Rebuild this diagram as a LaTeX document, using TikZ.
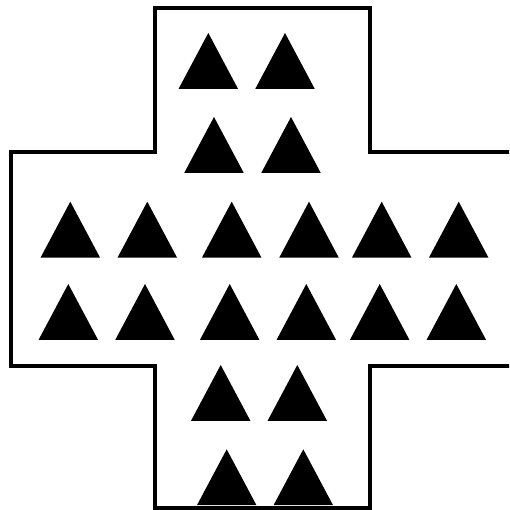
\documentclass[tikz,border=0pt]{standalone}
\usepackage{tikz}

\tikzset{
  board/.style={line width=4pt, line join=miter},
  peg/.style={fill=black},
}

\begin{document}
\begin{tikzpicture}[x=1pt, y=-1pt]
\useasboundingbox (0,0) rectangle (509,510);
\clip (0,0) rectangle (509,510);

% cross shaped board (right end runs off the page)
\draw[board] (516,152.5) -- (370,152.5) -- (370,8) -- (155,8) -- (155,152.5)
  -- (10.5,152.5) -- (10.5,365.5) -- (155,365.5) -- (155,507.5)
  -- (370,507.5) -- (370,365.5) -- (516,365.5);

% pegs, given by their apex
\foreach \ax/\ay in {208.3/33, 285/33,
                     214/117, 291/117,
                     70.3/201.7, 147.3/201.7, 231.7/201.7, 309/201.7, 381.7/201.7, 458.7/201.7,
                     68.3/284, 145/284, 229.7/284, 306.3/284, 379.7/284, 456.3/284,
                     220.7/365, 297.3/365,
                     226.7/449.3, 303.3/449.3}
  \fill[peg] (\ax,\ay) -- ++(29.7,55.8) -- ++(-59.4,0) -- cycle;

\end{tikzpicture}
\end{document}
